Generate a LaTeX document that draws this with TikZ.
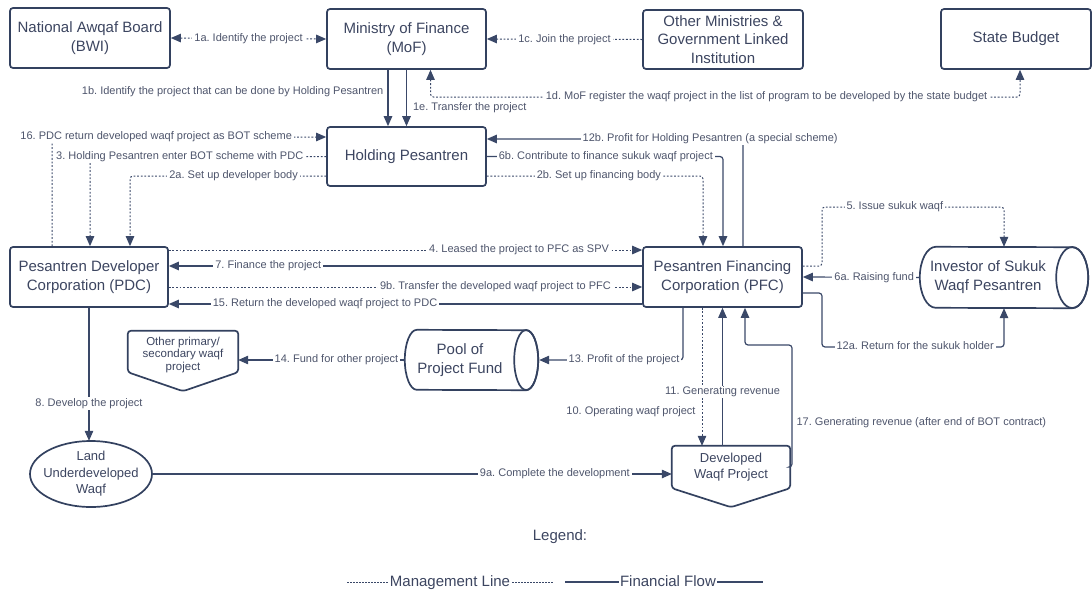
\documentclass[tikz,border=0pt]{standalone}
\usepackage{fontspec}
\setmainfont{Liberation Sans}
\usetikzlibrary{arrows.meta,calc}
\definecolor{navy}{HTML}{33415F}
\definecolor{linec}{HTML}{3A4868}
\definecolor{txt}{HTML}{3C4560}
\definecolor{lbltxt}{HTML}{4E556C}
\tikzset{
 box/.style={draw=navy, line width=1.7pt, rounded corners=3pt, align=center, text=txt, font=\fontsize{15}{19}\selectfont, inner sep=0pt, minimum width=159pt, minimum height=60pt},
 ghost/.style={align=center, text=txt, inner sep=0pt},
 shp/.style={draw=navy, line width=1.7pt},
 fl/.style={draw=linec, line width=1.2pt, rounded corners=3pt},
 mg/.style={fl, line width=1pt, dash pattern=on 1.8pt off 1.8pt},
 lbl/.style={fill=white, text=lbltxt, font=\fontsize{11}{12}\selectfont, inner xsep=2pt, inner ysep=1pt, text height=8pt, text depth=2.5pt, rounded corners=0pt},
 lbln/.style={lbl, fill=none},
 legt/.style={fill=white, text=txt, inner xsep=1pt, font=\fontsize{15}{18}\selectfont, text height=11pt, text depth=3pt},
}
\begin{document}
\frenchspacing
\begin{tikzpicture}[x=1pt,y=-1pt, >={Triangle[length=10pt,width=8.5pt]}]
\useasboundingbox (0,0) rectangle (1092,592);

% ---------- nodes ----------
\node[box, minimum width=160pt] (bwi) at (90,38) {National Awqaf Board\\(BWI)};
\node[box] (mof) at (406.5,39) {Ministry of Finance\\(MoF)};
\node[box, minimum width=160pt, minimum height=59pt, font=\fontsize{15}{18.5}\selectfont] (omi) at (723,39.5) {Other Ministries \&\\Government Linked\\Institution};
\node[box, minimum width=150pt] (sb) at (1016,39) {State Budget};
\node[box, minimum height=59pt] (hp) at (406.5,156.5) {Holding Pesantren};
\node[box, minimum width=158pt] (pdc) at (89,277) {Pesantren Developer\\Corporation (PDC)};
\node[box] (pfc) at (722.5,277) {Pesantren Financing\\Corporation (PFC)};

% investor cylinder
\node[ghost, minimum width=136pt, minimum height=61pt, font=\fontsize{15}{19}\selectfont] (inv) at (988,277.5) {Investor of Sukuk\\Waqf Pesantren};
\draw[shp] ([xshift=16pt]inv.north west) arc[start angle=90,end angle=270,x radius=16pt,y radius=30.5pt] -- ([xshift=16pt]inv.south east) arc[start angle=-90,end angle=90,x radius=16pt,y radius=30.5pt] -- cycle;
\draw[shp] ([xshift=16pt]inv.east) ellipse[x radius=16pt,y radius=30.5pt];

% pool cylinder
\node[ghost, minimum width=110pt, minimum height=60pt, font=\fontsize{15}{19}\selectfont] (pool) at (460,360) {Pool of\\Project Fund};
\draw[shp] ([xshift=12pt]pool.north west) arc[start angle=90,end angle=270,x radius=12pt,y radius=30pt] -- ([xshift=11pt]pool.south east) arc[start angle=-90,end angle=90,x radius=12pt,y radius=30pt] -- cycle;
\draw[shp] ([xshift=11pt]pool.east) ellipse[x radius=12pt,y radius=30pt];

% other primary / secondary (off-page shape)
\node[ghost, minimum width=110pt, minimum height=48pt, font=\fontsize{11.5}{12.5}\selectfont] (oth) at (183,355) {Other primary/\\secondary waqf\\project};
\draw[shp, rounded corners=3pt] (oth.north west) -- (oth.north east) -- ([yshift=7pt]oth.south east) -- ([yshift=-12pt]oth.south) -- ([yshift=7pt]oth.south west) -- cycle;

% developed waqf project
\node[ghost, minimum width=118pt, minimum height=42pt, font=\fontsize{13}{16}\selectfont] (dev) at (731,467) {Developed\\Waqf Project};
\draw[shp, rounded corners=3pt] (dev.north west) -- (dev.north east) -- (dev.south east) -- ([yshift=-19pt]dev.south) -- (dev.south west) -- cycle;

% land ellipse
\node[ghost, minimum width=122pt, minimum height=66pt, font=\fontsize{13}{16.5}\selectfont] (land) at (91,474) {Land\\Underdeveloped\\Waqf};
\draw[shp] (land.center) ellipse[x radius=61pt,y radius=33pt];

% ---------- connectors ----------
\draw[mg,<->] (bwi.east) -- node[lbl]{1a. Identify the project} (mof.west);
\draw[mg,->] (omi.west) -- node[lbl]{1c. Join the project} (mof.east);
\draw[fl,->] ([xshift=-18.5pt]mof.south) -- node[lbln,pos=0.39,anchor=east,xshift=-2pt]{1b. Identify the project that can be done by Holding Pesantren} ([xshift=-18.5pt]hp.north);
\draw[fl,->] (mof.south) -- node[lbln,pos=0.68,anchor=west,xshift=4pt]{1e. Transfer the project} (hp.north);
\coordinate (c1d) at (1020,97);
\draw[mg,<->] ([xshift=24pt]mof.south) |- node[lbl,pos=0.785]{1d. MoF register the waqf project in the list of program to be developed by the state budget} (c1d) -- ([xshift=4pt]sb.south);

\draw[mg,->] ([xshift=-37pt]pdc.north) |- node[lbl,pos=0.69]{16. PDC return developed waqf project as BOT scheme} ([yshift=19.5pt]hp.west);
\draw[mg,->] (hp.west) -| node[lbl,pos=0.31]{3. Holding Pesantren enter BOT scheme with PDC} ([xshift=1pt]pdc.north);
\draw[mg,->] ([yshift=-19.5pt]hp.west) -| node[lbl,pos=0.236]{2a. Set up developer body} ([xshift=41pt]pdc.north);

\draw[fl,->] ([xshift=20.5pt]pfc.north) |- node[lbl,pos=0.564]{12b. Profit for Holding Pesantren (a special scheme)} ([yshift=17.5pt]hp.east);
\draw[fl,->] (hp.east) -| node[lbl,pos=0.252]{6b. Contribute to finance sukuk waqf project} ([xshift=0.5pt]pfc.north);
\draw[mg,->] ([yshift=-19.5pt]hp.east) -| node[lbl,pos=0.259]{2b. Set up financing body} ([xshift=-19.5pt]pfc.north);

\draw[mg,->] ([yshift=27pt]pdc.east) -- node[lbl,pos=0.74]{4. Leased the project to PFC as SPV} ([yshift=27pt]pfc.west);
\draw[fl,->] ([yshift=11pt]pfc.west) -- node[lbl,pos=0.79]{7. Finance the project} ([yshift=11pt]pdc.east);
\draw[mg,->] ([yshift=-10pt]pdc.east) -- node[lbl,pos=0.69]{9b. Transfer the developed waqf project to PFC} ([yshift=-10pt]pfc.west);
\draw[fl,->] ([yshift=-27pt]pfc.west) -- node[lbl,pos=0.67]{15. Return the developed waqf project to PDC} ([yshift=-27pt]pdc.east);

\coordinate (c5) at (822,207);
\draw[mg,->] ([yshift=11pt]pfc.east) -| (c5) -| node[lbl,pos=0.2]{5. Issue sukuk waqf} ([xshift=16pt]inv.north);
\draw[fl,->] (inv.west) -- node[lbl,pos=0.39]{6a. Raising fund} (pfc.east);
\coordinate (c12a) at (822,347);
\draw[fl,->] ([yshift=-16pt]pfc.east) -| (c12a) -| node[lbl,pos=0.256]{12a. Return for the sukuk holder} ([xshift=16pt]inv.south);

\draw[fl,->] ([xshift=-39.5pt]pfc.south) |- node[lbl,pos=0.705]{13. Profit of the project} ([xshift=24pt]pool.east);
\draw[fl,->] (pool.west) -- node[lbl,pos=0.41]{14. Fund for other project} (oth.east |- pool.west);

\draw[fl,->] (pdc.south) -- node[lbl,pos=0.72]{8. Develop the project} (pdc.south |- land.north);
\draw[fl,->] (land.east) -- node[lbl,pos=0.775]{9a. Complete the development} (land.east -| dev.west);

\draw[mg,->] ([xshift=-20.5pt]pfc.south) -- node[lbln,pos=0.755,anchor=east,xshift=-4pt]{10. Operating waqf project} ([xshift=-20.5pt]pfc.south |- dev.north);
\draw[fl,->] (dev.north -| pfc.south) -- node[lbl,pos=0.39]{11. Generating revenue} (pfc.south);
\coordinate (c17) at (792,345);
\draw[fl,->] (dev.east) -| node[lbln,pos=0.68,anchor=west,xshift=2pt]{17. Generating revenue (after end of BOT contract)} (c17) -| ([xshift=22.5pt]pfc.south);

% ---------- legend ----------
\node[text=txt, font=\fontsize{15}{18}\selectfont] (leg) at (560,537) {Legend:};
\coordinate (lm1) at (347,582);
\coordinate (lm2) at (553,582);
\coordinate (lf1) at (565,582);
\coordinate (lf2) at (763,582);
\draw[draw=linec, line width=1pt, dash pattern=on 1.5pt off 1.5pt] (lm1) -- node[legt]{Management Line} (lm2);
\draw[draw=linec, line width=1.1pt] (lf1) -- node[legt, pos=0.52]{Financial Flow} (lf2);
\end{tikzpicture}
\end{document}
